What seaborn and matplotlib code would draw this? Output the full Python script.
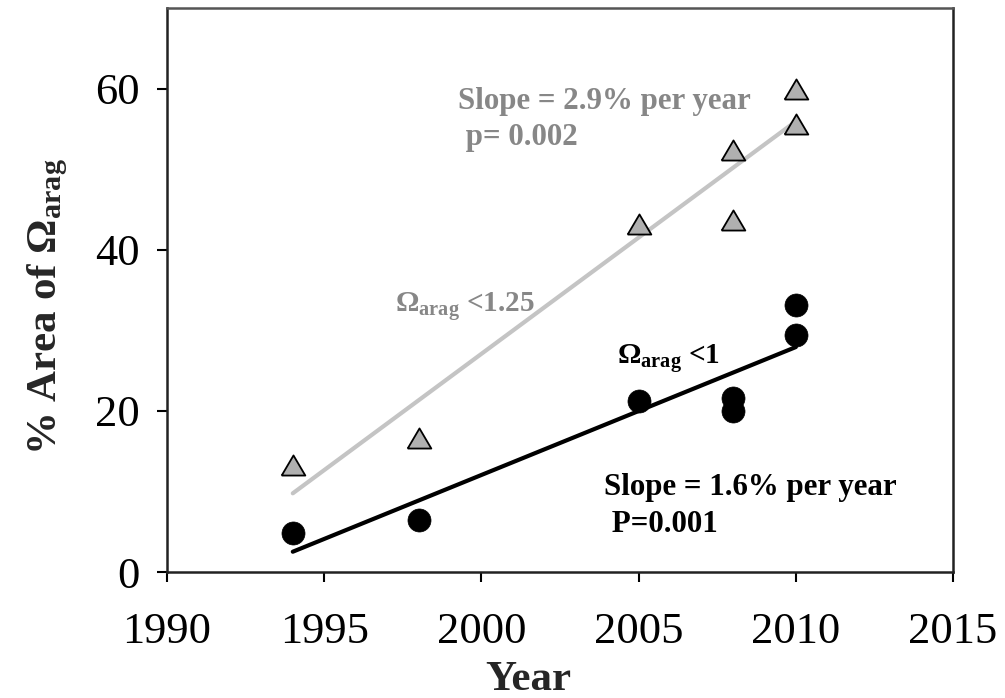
import numpy as np
import pandas as pd
import matplotlib
matplotlib.use("Agg")
import matplotlib.pyplot as plt
import seaborn as sns

# Survey years and percent area below each saturation threshold
years = [1994, 1998, 2005, 2008, 2008, 2010, 2010]
area_below_125 = [13.3, 16.6, 43.2, 43.7, 52.4, 55.6, 60.0]
area_below_1 = [4.9, 6.5, 21.2, 21.6, 20.0, 33.1, 29.4]

x_ticks = [1990, 1995, 2000, 2005, 2010, 2015]
y_ticks = [0, 20, 40, 60]

sns.set_theme(style="ticks")
plt.rcParams["font.family"] = ["Liberation Serif", "DejaVu Serif"]
plt.rcParams["mathtext.fontset"] = "custom"
plt.rcParams["mathtext.rm"] = "Liberation Serif"
plt.rcParams["mathtext.bf"] = "Liberation Serif:bold"
plt.rcParams["mathtext.it"] = "Liberation Serif:italic"

df125 = pd.DataFrame({"year": years, "area": area_below_125})
df1 = pd.DataFrame({"year": years, "area": area_below_1})

fig = plt.figure(figsize=(10.05, 6.98), dpi=100)
ax = fig.add_axes([0.1662, 0.1805, 0.9483 - 0.1662, 0.9885 - 0.1805])

# Fitted trend lines
sns.regplot(data=df125, x="year", y="area", ax=ax, scatter=False, ci=None,
            line_kws=dict(color="#c4c4c4", lw=3.0, zorder=2))
sns.regplot(data=df1, x="year", y="area", ax=ax, scatter=False, ci=None,
            line_kws=dict(color="black", lw=3.0, zorder=2))

tri = [(-1, -0.85), (1, -0.85), (0, 0.85), (-1, -0.85)]
sns.scatterplot(data=df125, x="year", y="area", ax=ax, marker=tri, s=290,
                color="#b0b0b0", edgecolor="black", linewidth=1.3, zorder=3)
sns.scatterplot(data=df1, x="year", y="area", ax=ax, marker="o", s=275,
                color="black", edgecolor="black", linewidth=0.5, zorder=3)

ax.set_xlim(1990, 2015)
ax.set_ylim(0, 70)
ax.set_xticks(x_ticks)
ax.set_yticks(y_ticks)
ax.tick_params(axis="both", direction="out", length=7, width=1.5,
               labelsize=32, color="black", labelcolor="black")
ax.tick_params(axis="x", pad=22)
ax.tick_params(axis="y", pad=13)
for side in ["left", "bottom", "top", "right"]:
    ax.spines[side].set_visible(True)
    ax.spines[side].set_linewidth(1.8)
    ax.spines[side].set_color("#222222")
ax.spines["top"].set_color("#555555")

ax.set_xlabel("Year", fontsize=31, fontweight="bold")
ax.set_ylabel(r"% Area of $\mathbf{\Omega_{arag}}$", fontsize=31, fontweight="bold")
ax.xaxis.set_label_coords(0.46, -0.157)
ax.yaxis.set_label_coords(-0.124, 0.47)

gray = "#878787"
fs = 22.3
fs_omega = 21
ax.text(1999.26, 57.5, "Slope = 2.9% per year", color=gray, fontsize=fs,
        fontweight="bold", va="baseline", ha="left")
ax.text(1999.26, 53.0, " p= 0.002", color=gray, fontsize=fs,
        fontweight="bold", va="baseline", ha="left")
ax.text(1997.25, 32.3, r"$\mathbf{\Omega_{arag}}$ <1.25", color=gray, fontsize=fs_omega,
        fontweight="bold", va="baseline", ha="left")
ax.text(2004.31, 25.9, r"$\mathbf{\Omega_{arag}}$ <1", color="black", fontsize=fs_omega,
        fontweight="bold", va="baseline", ha="left")
ax.text(2003.9, 9.55, "Slope = 1.6% per year", color="black", fontsize=fs,
        fontweight="bold", va="baseline", ha="left")
ax.text(2003.9, 5.0, " P=0.001", color="black", fontsize=fs,
        fontweight="bold", va="baseline", ha="left")

fig.savefig("out.png", dpi=100)
